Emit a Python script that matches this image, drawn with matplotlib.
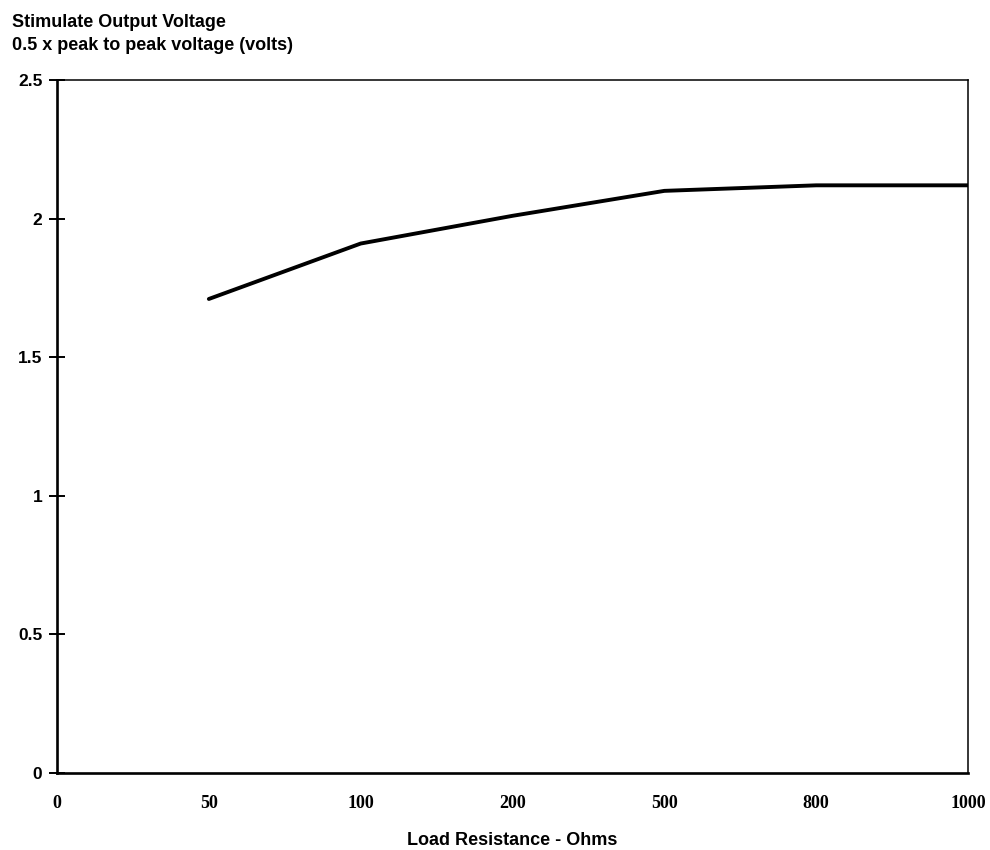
import matplotlib
matplotlib.use("Agg")
import matplotlib.pyplot as plt

categories = ['0', '50', '100', '200', '500', '800', '1000']
series_cats = ['50', '100', '200', '500', '800', '1000']
voltage = [1.71, 1.91, 2.01, 2.10, 2.12, 2.12]
y_ticks = [0, 0.5, 1, 1.5, 2, 2.5]
y_tick_labels = ['0', '0.5', '1', '1.5', '2', '2.5']

fig = plt.figure(figsize=(9.9, 8.5), dpi=100)
ax = fig.add_axes([0.0576, 0.0906, 0.9202, 0.8153])

xpos = [categories.index(c) for c in series_cats]
ax.plot(xpos, voltage, color='black', linewidth=2.8, solid_capstyle='round',
        solid_joinstyle='round')

ax.set_xlim(0, len(categories) - 1)
ax.set_ylim(0, 2.5)
ax.set_xticks(range(len(categories)))
ax.set_xticklabels(categories, family='Liberation Serif', fontweight='bold', fontsize=13)
ax.tick_params(axis='x', length=0, pad=16)
ax.set_yticks(y_ticks)
ax.set_yticklabels(y_tick_labels, family='Liberation Sans', fontweight='bold', fontsize=12.5)
ax.tick_params(axis='y', direction='inout', length=11, width=1.4, pad=5)

for s in ['left', 'bottom']:
    ax.spines[s].set_linewidth(1.9)
for s in ['top', 'right']:
    ax.spines[s].set_linewidth(1.1)

ax.set_xlabel('Load Resistance - Ohms', family='Liberation Sans', fontweight='bold',
              fontsize=13, labelpad=14)

fig.text(0.012, 0.984, 'Stimulate Output Voltage', family='Liberation Sans',
         fontweight='bold', fontsize=13, va='top', ha='left')
fig.text(0.012, 0.956, '0.5 x peak to peak voltage (volts)', family='Liberation Sans',
         fontweight='bold', fontsize=13, va='top', ha='left')

fig.savefig('out.png', dpi=100)
